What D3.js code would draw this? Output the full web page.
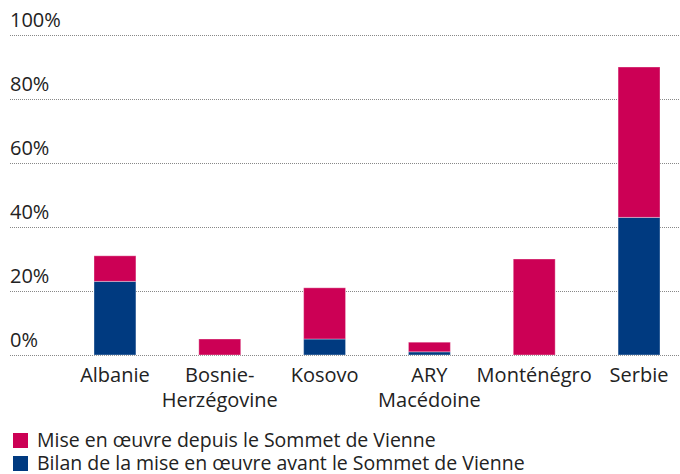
<!DOCTYPE html>
<html lang="fr">
<head>
<meta charset="utf-8">
<script src="https://cdn.jsdelivr.net/npm/d3@7"></script>
<style>
  html, body { margin: 0; padding: 0; background: #fff; }
  svg { display: block; font-family: "Open Sans", "Noto Sans", sans-serif; }
</style>
</head>
<body>
<svg width="680" height="474"></svg>
<script>
  const countries = ["Albanie", "Bosnie-\nHerzégovine", "Kosovo", "ARY\nMacédoine", "Monténégro", "Serbie"];
  const before = [23, 0, 5, 1, 0, 43];
  const since = [8, 5, 16, 3, 30, 47];
  const ticks = [0, 20, 40, 60, 80, 100];
  const seriesNames = ["Mise en œuvre depuis le Sommet de Vienne", "Bilan de la mise en œuvre avant le Sommet de Vienne"];
  const colors = { before: "#003a80", since: "#cc0055" };

  const svg = d3.select("svg");
  const margin = { left: 10, right: 0, top: 35, bottom: 119 };
  const width = 680, height = 474;

  const x = d3.scaleBand()
    .domain(countries)
    .range([94, 660])
    .paddingInner(0.6)
    .paddingOuter(0);

  const y = d3.scaleLinear()
    .domain([0, 100])
    .range([height - margin.bottom, margin.top]);

  // grid
  svg.append("g").selectAll("line")
    .data(ticks)
    .join("line")
    .attr("x1", margin.left)
    .attr("x2", width)
    .attr("y1", d => Math.round(y(d)) + 0.5)
    .attr("y2", d => Math.round(y(d)) + 0.5)
    .attr("stroke", "#888")
    .attr("stroke-width", 1)
    .attr("stroke-dasharray", "1,1");

  svg.append("g").selectAll("text")
    .data(ticks)
    .join("text")
    .attr("x", margin.left)
    .attr("y", d => y(d) - 8)
    .attr("font-size", 20)
    .attr("fill", "#222")
    .text(d => d + "%");

  // stacked bars
  const rows = countries.map((c, i) => ({ c, before: before[i], since: since[i] }));
  const stack = d3.stack().keys(["before", "since"])(rows);

  svg.append("g").selectAll("g")
    .data(stack)
    .join("g")
    .attr("fill", d => colors[d.key])
    .selectAll("rect")
    .data(d => d.filter(s => s[1] - s[0] > 0))
    .join("rect")
    .attr("x", d => x(d.data.c))
    .attr("width", x.bandwidth())
    .attr("y", d => y(d[1]))
    .attr("height", d => y(d[0]) - y(d[1]))
    .attr("stroke", "#fff")
    .attr("stroke-opacity", 0.35)
    .attr("stroke-width", 1);

  // category labels
  const lab = svg.append("g").selectAll("text")
    .data(countries)
    .join("text")
    .attr("text-anchor", "middle")
    .attr("font-size", 20)
    .attr("fill", "#222")
    .attr("x", d => x(d) + x.bandwidth() / 2)
    .attr("y", 382);
  lab.selectAll("tspan")
    .data(d => d.split("\n"))
    .join("tspan")
    .attr("x", function () { return d3.select(this.parentNode).attr("x"); })
    .attr("dy", (d, i) => i === 0 ? 0 : 25)
    .text(d => d);

  // legend
  const leg = svg.append("g").selectAll("g")
    .data([{ name: seriesNames[0], col: colors.since }, { name: seriesNames[1], col: colors.before }])
    .join("g")
    .attr("transform", (d, i) => `translate(13,${433 + i * 23})`);
  leg.append("rect")
    .attr("width", 15).attr("height", 15)
    .attr("fill", d => d.col);
  leg.append("text")
    .attr("x", 24).attr("y", 14)
    .attr("font-size", 19.5)
    .attr("fill", "#222")
    .text(d => d.name);
</script>
</body>
</html>
